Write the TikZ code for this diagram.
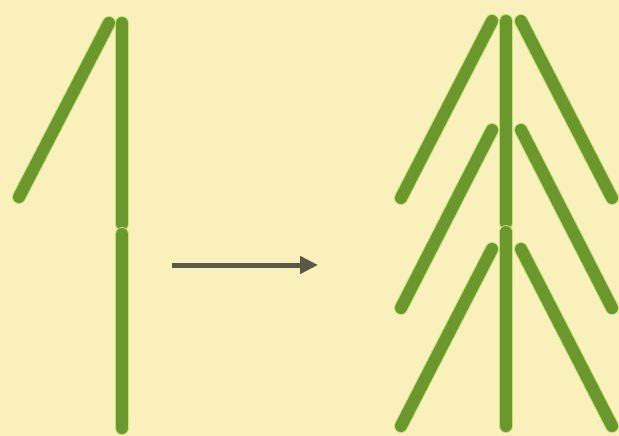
\documentclass[tikz,border=0pt]{standalone}
\usetikzlibrary{arrows.meta}
\definecolor{paper}{RGB}{250,240,188}
\definecolor{stem}{RGB}{106,152,44}
\definecolor{halo}{RGB}{196,224,120}
\definecolor{pointer}{RGB}{90,88,66}
\tikzset{
  stick/.style={line width=12pt,line cap=round,draw=stem,
    preaction={draw=halo,line width=14pt,line cap=round}},
  growth/.style={-{Triangle[length=18pt,width=17pt]},line width=5pt,draw=pointer}
}

\begin{document}
\begin{tikzpicture}[x=1pt,y=-1pt]
  \fill[paper] (0,0) rectangle (619,436);
  \useasboundingbox (0,0) rectangle (619,436);

  % before
  \draw[stick] (109,23) -- (19,197);
  \draw[stick] (122,23) -- (122,224);
  \draw[stick] (122,234) -- (122,428);

  % arrow
  \coordinate (from) at (172,265);
  \coordinate (to) at (318,265);
  \draw[growth] (from) -- (to);

  % after
  \draw[stick] (506,21) -- (506,223);
  \draw[stick] (506,232) -- (506,426);
  \foreach \y/\yy in {21/198, 130/308, 249/426} {
    \draw[stick] (492,\y) -- (401,\yy);
    \draw[stick] (521,\y) -- (612,\yy);
  }
\end{tikzpicture}
\end{document}
